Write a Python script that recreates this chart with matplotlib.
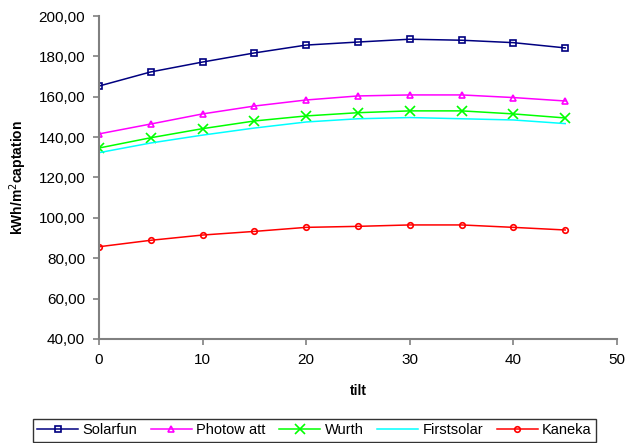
import matplotlib
matplotlib.use('Agg')
import matplotlib.pyplot as plt
from matplotlib.ticker import FuncFormatter

plt.rcParams['font.family'] = ['Liberation Sans', 'DejaVu Sans']

tilt = [0, 5, 10, 15, 20, 25, 30, 35, 40, 45]
solarfun = [165.3, 172.3, 177.2, 181.7, 185.6, 187.1, 188.5, 188.0, 186.8, 184.2]
photowatt = [141.6, 146.5, 151.5, 155.4, 158.4, 160.4, 160.9, 160.9, 159.6, 157.9]
wurth = [134.6, 139.7, 144.2, 148.0, 150.5, 152.1, 153.0, 153.0, 151.5, 149.5]
firstsolar = [132.3, 137.1, 141.0, 144.5, 147.5, 149.1, 149.7, 149.1, 148.5, 146.7]
kaneka = [85.7, 88.9, 91.5, 93.3, 95.3, 95.8, 96.5, 96.5, 95.3, 94.0]

fig = plt.figure(figsize=(6.39, 4.43), dpi=100)
ax = fig.add_axes([99 / 639, 1 - 339 / 443, 518 / 639, 323 / 443])

ax.plot(tilt, solarfun, color='#000080', lw=1.1, marker='s', ms=4, mfc='none', mew=1.2, label='Solarfun')
ax.plot(tilt, photowatt, color='#FF00FF', lw=1.1, marker='^', ms=5, mfc='none', mew=1.2, label='Photow att')
ax.plot(tilt, wurth, color='#00FF00', lw=1.1, marker='x', ms=7, mew=1.2, label='Wurth')
ax.plot(tilt, firstsolar, color='#00FFFF', lw=1.1, label='Firstsolar')
ax.plot(tilt, kaneka, color='#FF0000', lw=1.1, marker='o', ms=4, mfc='none', mew=1.2, label='Kaneka')

ax.set_xlim(0, 50)
ax.set_ylim(40, 200)
ax.set_xticks(range(0, 51, 10))
ax.set_yticks(range(40, 201, 20))
ax.yaxis.set_major_formatter(FuncFormatter(lambda v, p: f'{v:.2f}'.replace('.', ',')))

for s in ['top', 'right']:
    ax.spines[s].set_visible(False)
for s in ['left', 'bottom']:
    ax.spines[s].set_color('#808080')
    ax.spines[s].set_linewidth(1.5)
ax.tick_params(direction='out', length=4, width=1.2, color='#808080', labelsize=11, pad=6)

ax.set_xlabel('tilt', fontsize=10, fontweight='bold', labelpad=12)
ax.set_ylabel('kWh/m$^2$captation', fontsize=10, fontweight='bold', labelpad=7)

leg = fig.legend(loc='lower center', bbox_to_anchor=(314.5 / 639, 0.0), ncol=5, frameon=True,
                 fancybox=False, edgecolor='black', fontsize=10.5, handlelength=2.8,
                 columnspacing=0.95, handletextpad=0.3, borderpad=0.3, borderaxespad=0.1)
leg.get_frame().set_linewidth(1.0)

fig.savefig('out.png', dpi=100)
